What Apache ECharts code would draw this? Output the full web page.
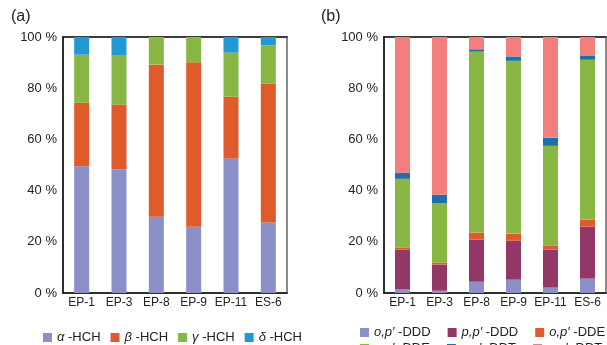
<!DOCTYPE html>
<html><head><meta charset="utf-8">
<script src="https://cdn.jsdelivr.net/npm/echarts@6/dist/echarts.min.js"></script>
<style>html,body{margin:0;padding:0;background:#fff}#c{width:607px;height:345px}</style>
</head><body><div id="c"></div>
<script>
const categories = ['EP-1','EP-3','EP-8','EP-9','EP-11','ES-6'];
const yTicks = [0,20,40,60,80,100];
// Panel (a) HCH composition (%)
const alphaHCH = [49.5, 48.3, 29.8, 25.9, 52.5, 27.5];
const betaHCH  = [24.8, 25.3, 59.4, 64.2, 24.2, 54.3];
const gammaHCH = [18.8, 19.1, 10.8,  9.9, 17.2, 14.9];
const deltaHCH = [ 6.9,  7.3,  0.0,  0.0,  6.1,  3.3];
// Panel (b) DDT composition (%)
const opDDD = [ 1.4,  0.9,  4.4,  5.2,  2.1,  5.6];
const ppDDD = [15.5, 10.2, 16.4, 15.2, 14.8, 20.3];
const opDDE = [ 0.9,  0.7,  2.8,  2.8,  1.6,  2.7];
const ppDDE = [26.8, 23.2, 70.7, 67.5, 39.0, 62.5];
const opDDT = [ 2.4,  3.4,  0.9,  1.7,  3.2,  1.5];
const ppDDT = [53.0, 61.6,  4.8,  7.6, 39.3,  7.4];

const namesA = ['α-HCH','β-HCH','γ-HCH','δ-HCH'];
const colorsA = ['#8B90C6','#E05B2C','#88B843','#2298D5'];
const namesB = ["o,p′-DDD","p,p′-DDD","o,p′-DDE","p,p′-DDE","o,p′-DDT","p,p′-DDT"];
const colorsB = ['#8B90C6','#933866','#E05B2C','#88B843','#1F6FAF','#F27E7E'];
const dataA = [alphaHCH, betaHCH, gammaHCH, deltaHCH];
const dataB = [opDDD, ppDDD, opDDE, ppDDE, opDDT, ppDDT];

const font = 'Liberation Sans, Arial, sans-serif';
function legendFmt(name){
  const i = name.indexOf('-');
  return '{i|' + name.slice(0,i) + '} -' + name.slice(i+1);
}
const legendRich = {i:{fontStyle:'italic', fontFamily:font, fontSize:13, color:'#222'}};
const legText = {fontSize:13, color:'#222', fontFamily:font, rich:legendRich};

function xAx(gi){ return [{
  type:'category', gridIndex:gi, data:categories,
  axisLine:{lineStyle:{color:'#111', width:1.5}}, axisTick:{show:false},
  axisLabel:{fontSize:12, color:'#222', fontFamily:font, margin:4, interval:0}
},{
  type:'category', gridIndex:gi, data:categories, position:'top',
  axisLine:{lineStyle:{color:'#222', width:1.5}}, axisTick:{show:false}, axisLabel:{show:false}
}]; }
function yAx(gi){ return {
  type:'value', gridIndex:gi, min:0, max:100, interval:20,
  axisLine:{show:true, lineStyle:{color:'#111', width:1.5}}, axisTick:{show:false},
  splitLine:{show:false},
  axisLabel:{fontSize:13, color:'#222', fontFamily:font, margin:6, formatter:'{value} %'}
}; }

const series = [];
dataA.forEach((d,k)=>series.push({name:namesA[k], type:'bar', stack:'a', xAxisIndex:0, yAxisIndex:0, data:d, barWidth:15, itemStyle:{color:colorsA[k]}}));
dataB.forEach((d,k)=>series.push({name:namesB[k], type:'bar', stack:'b', xAxisIndex:2, yAxisIndex:1, data:d, barWidth:15, itemStyle:{color:colorsB[k]}}));

const chart = echarts.init(document.getElementById('c'), null, {renderer:'canvas'});
chart.setOption({
  animation:false,
  title:[
    {text:'(a)', left:6, top:4, textStyle:{fontSize:16, fontWeight:'normal', color:'#222', fontFamily:font}},
    {text:'(b)', left:316, top:4, textStyle:{fontSize:16, fontWeight:'normal', color:'#222', fontFamily:font}}
  ],
  grid:[
    {left:63, right:320, top:37, bottom:52, show:true, borderColor:'#8a8a8a', borderWidth:2},
    {left:384, right:1, top:37, bottom:52, show:true, borderColor:'#8a8a8a', borderWidth:2}
  ],
  xAxis:[...xAx(0), ...xAx(1)],
  yAxis:[yAx(0), yAx(1)],
  legend:[
    {data:namesA, left:38, top:326, itemWidth:9, itemHeight:9, itemGap:10, icon:'rect',
     formatter:legendFmt, textStyle:legText},
    {data:namesB.slice(0,3), left:355, top:321, width:270, itemWidth:9, itemHeight:9, itemGap:17, icon:'rect',
     formatter:legendFmt, textStyle:legText},
    {data:namesB.slice(3), left:355, top:337, width:270, itemWidth:9, itemHeight:9, itemGap:17, icon:'rect',
     formatter:legendFmt, textStyle:legText}
  ],
  series
});
</script></body></html>
